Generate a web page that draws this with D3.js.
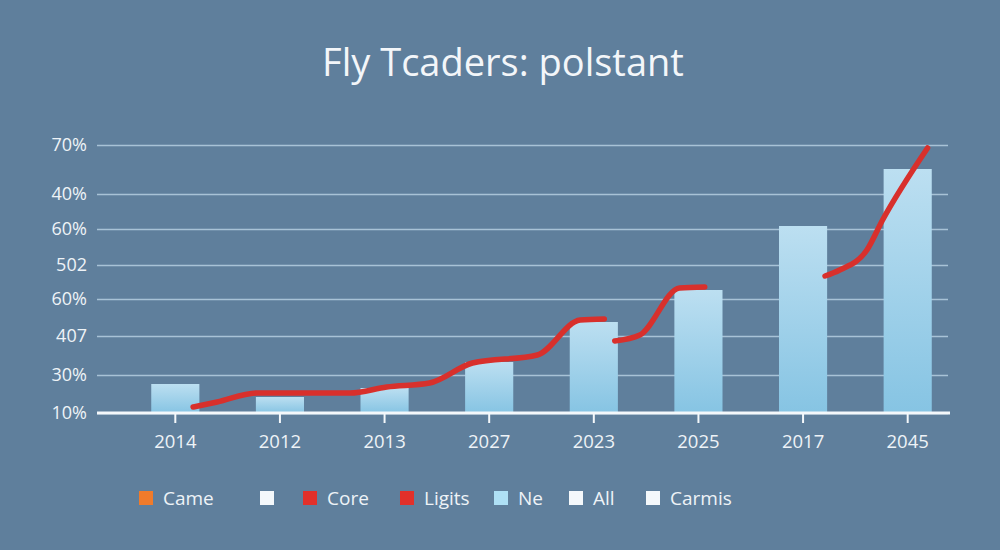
<!DOCTYPE html>
<html>
<head>
<meta charset="utf-8">
<script src="https://cdn.jsdelivr.net/npm/d3@7"></script>
<style>
  html, body { margin: 0; padding: 0; background: #5f7f9c; }
  svg { display: block; font-family: "Open Sans", "DejaVu Sans", sans-serif; }
</style>
</head>
<body>
<svg id="drawing_region"></svg>
<script>
// categories along the x axis
const years = ["2014", "2012", "2013", "2027", "2023", "2025", "2017", "2045"];
// bar heights (in y units, 0 = baseline)
const barValues = [29, 16, 25, 51, 91, 123, 187, 244];
// y gridline positions and their (printed) labels
const yTickValues = [0, 38, 77, 114, 148, 184, 219, 268];
const yTickLabels = ["10%", "30%", "407", "60%", "502", "60%", "40%", "70%"];
// red line, three broken segments: [category position, value]
const lineSeg1 = [[0.17, 6], [0.40, 11], [0.78, 20], [1.67, 20], [2.02, 26], [2.43, 30], [2.84, 50], [3.46, 58], [3.87, 93], [4.10, 94]];
const lineSeg2 = [[4.20, 72], [4.44, 78], [4.82, 125], [5.06, 126]];
const lineSeg3 = [[6.21, 137], [6.35, 143], [6.61, 163], [6.76, 193], [7.19, 265]];
// legend
const legendNames = ["Came", "", "Core", "Ligits", "Ne", "All", "Carmis"];
const legendColors = ["#f07b2b", "#f4f8fb", "#e2302a", "#e2302a", "#aee0f5", "#f4f8fb", "#f4f8fb"];

class BarLineChart {
    constructor(config) {
        this.config = config;
        this.init();
    }
    init() {
        let self = this;
        self.svg = d3.select(self.config.parent)
            .attr('width', self.config.width)
            .attr('height', self.config.height);

        self.svg.append('rect')
            .attr('width', self.config.width)
            .attr('height', self.config.height)
            .attr('fill', '#5f7f9c');

        self.chart = self.svg.append('g')
            .attr('transform', `translate(${self.config.margin.left}, ${self.config.margin.top})`);

        self.inner_width = self.config.width - self.config.margin.left - self.config.margin.right;
        self.inner_height = self.config.height - self.config.margin.top - self.config.margin.bottom;

        self.xscale = d3.scaleBand()
            .domain(years)
            .range([26, 863])
            .paddingInner(0.54)
            .paddingOuter(0.27);

        self.yscale = d3.scaleLinear()
            .domain([0, 268])
            .range([self.inner_height, 0]);

        const bw = self.xscale.bandwidth();
        self.pos = d3.scaleLinear()
            .domain([0, years.length - 1])
            .range([self.xscale(years[0]) + bw / 2, self.xscale(years[years.length - 1]) + bw / 2]);

        self.line = d3.line()
            .x(d => self.pos(d[0]))
            .y(d => self.yscale(d[1]))
            .curve(d3.curveMonotoneX);
    }
    render() {
        let self = this;

        // title
        self.svg.append('text')
            .attr('x', 503)
            .attr('y', 76)
            .attr('text-anchor', 'middle')
            .attr('font-size', '38px')
            .attr('fill', '#f3f6f9')
            .text('Fly Tcaders: polstant');

        // gradient for bars
        const grad = self.svg.append('defs').append('linearGradient')
            .attr('id', 'barGrad')
            .attr('x1', 0).attr('y1', 0).attr('x2', 0).attr('y2', 1);
        grad.append('stop').attr('offset', '0%').attr('stop-color', '#bcdff1');
        grad.append('stop').attr('offset', '100%').attr('stop-color', '#86c4e3');

        // y axis with gridlines
        const yaxis = d3.axisLeft(self.yscale)
            .tickValues(yTickValues)
            .tickFormat((d, i) => yTickLabels[i])
            .tickSize(-self.inner_width)
            .tickPadding(10);
        const yg = self.chart.append('g').call(yaxis);
        yg.select('.domain').remove();
        yg.selectAll('.tick line')
            .attr('stroke', '#a8c2d6')
            .attr('stroke-width', 1.5);
        yg.selectAll('.tick text')
            .attr('fill', '#eef3f7')
            .attr('font-size', '18px')
            .attr('font-family', '"Open Sans", sans-serif');

        // bars
        self.chart.selectAll('.bar')
            .data(barValues)
            .join('rect')
            .attr('class', 'bar')
            .attr('x', (d, i) => self.xscale(years[i]))
            .attr('y', d => self.yscale(d))
            .attr('width', self.xscale.bandwidth())
            .attr('height', d => self.inner_height - self.yscale(d))
            .attr('fill', 'url(#barGrad)');

        // baseline
        self.chart.append('line')
            .attr('x1', 0).attr('x2', self.inner_width + 2)
            .attr('y1', self.inner_height).attr('y2', self.inner_height)
            .attr('stroke', '#f4f8fb')
            .attr('stroke-width', 3);

        // x axis
        const xaxis = d3.axisBottom(self.xscale)
            .tickSize(9)
            .tickPadding(12);
        const xg = self.chart.append('g')
            .attr('transform', `translate(0, ${self.inner_height + 1})`)
            .call(xaxis);
        xg.select('.domain').remove();
        xg.selectAll('.tick line')
            .attr('stroke', '#f4f8fb')
            .attr('stroke-width', 2);
        xg.selectAll('.tick text')
            .attr('fill', '#eef3f7')
            .attr('font-size', '18.5px')
            .attr('font-family', '"Open Sans", sans-serif');

        // red line segments
        self.chart.selectAll('.seg')
            .data([lineSeg1, lineSeg2, lineSeg3])
            .join('path')
            .attr('class', 'seg')
            .attr('d', d => self.line(d))
            .attr('fill', 'none')
            .attr('stroke', '#d8302c')
            .attr('stroke-width', 5.5)
            .attr('stroke-linecap', 'round')
            .attr('stroke-linejoin', 'round');

        // legend
        const legendX = [139, 260, 303, 400, 494, 569, 646];
        const lg = self.svg.append('g')
            .attr('transform', 'translate(0, 491)');
        const items = lg.selectAll('.item')
            .data(legendNames)
            .join('g')
            .attr('class', 'item')
            .attr('transform', (d, i) => `translate(${legendX[i]}, 0)`);
        items.append('rect')
            .attr('width', 14).attr('height', 14)
            .attr('fill', (d, i) => legendColors[i]);
        items.append('text')
            .attr('x', 24)
            .attr('y', 14)
            .attr('font-size', '19px')
            .attr('fill', '#eef3f7')
            .text(d => d);
    }
}

const chart = new BarLineChart({
    parent: '#drawing_region',
    width: 1000,
    height: 550,
    margin: {top: 145, right: 52, bottom: 137, left: 97}
});
chart.render();
</script>
</body>
</html>
